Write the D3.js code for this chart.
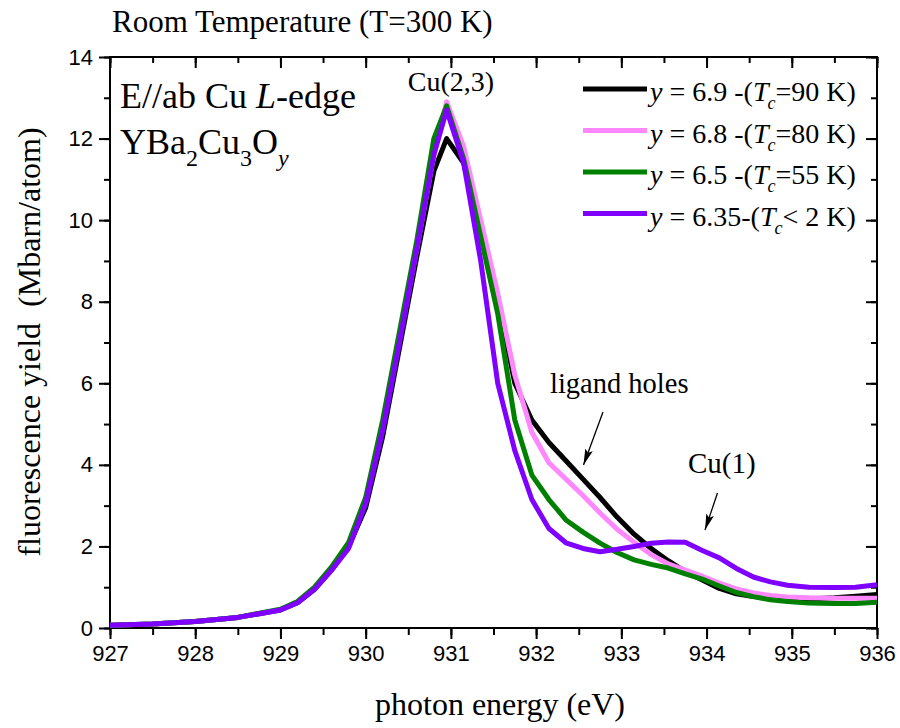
<!DOCTYPE html>
<html>
<head>
<meta charset="utf-8">
<script src="https://cdn.jsdelivr.net/npm/d3@7"></script>
<style>
  html, body { margin: 0; padding: 0; background: #fff; }
  svg { display: block; }
  .serif { font-family: "Liberation Serif", "Times New Roman", serif; fill: #000; white-space: pre; }
  .tick text { font-family: "Liberation Sans", Arial, sans-serif; font-size: 22px; fill: #000; }
</style>
</head>
<body>
<svg id="chart" width="900" height="728"></svg>
<script>
// Photon energy grid (eV)
const energy = [927, 927.5, 928, 928.5, 929, 929.2, 929.4, 929.6, 929.8, 930,
  930.2, 930.4, 930.6, 930.8, 930.95, 931.15, 931.35, 931.55, 931.75, 931.95,
  932.15, 932.35, 932.55, 932.75, 932.95, 933.15, 933.35, 933.55, 933.75, 933.95,
  934.15, 934.35, 934.55, 934.75, 934.95, 935.2, 935.5, 935.75, 936];

// Fluorescence yield (Mbarn/atom) for each oxygen content
const yield69 = [0.07, 0.10, 0.16, 0.26, 0.44, 0.62, 0.95, 1.42, 2.0, 2.95,
  4.7, 6.9, 9.1, 11.2, 12.0, 11.4, 9.6, 8.1, 6.0, 5.1,
  4.55, 4.1, 3.65, 3.2, 2.72, 2.3, 1.95, 1.65, 1.38, 1.18,
  0.97, 0.84, 0.77, 0.73, 0.71, 0.71, 0.74, 0.78, 0.82];
const yield68 = [0.07, 0.10, 0.16, 0.26, 0.45, 0.63, 0.98, 1.45, 2.05, 3.1,
  4.9, 7.1, 9.3, 11.6, 12.9, 11.8, 10.0, 8.2, 6.2, 4.8,
  4.05, 3.65, 3.25, 2.82, 2.42, 2.1, 1.8, 1.57, 1.42, 1.27,
  1.1, 0.96, 0.86, 0.8, 0.76, 0.74, 0.73, 0.73, 0.73];
const yield65 = [0.07, 0.10, 0.16, 0.26, 0.46, 0.65, 1.0, 1.5, 2.1, 3.2,
  5.1, 7.3, 9.5, 12.0, 12.8, 11.5, 9.6, 7.7, 5.1, 3.75,
  3.15, 2.65, 2.35, 2.08, 1.85, 1.67, 1.56, 1.47, 1.33, 1.2,
  1.03, 0.87, 0.77, 0.69, 0.65, 0.61, 0.6, 0.6, 0.63];
const yield635 = [0.07, 0.10, 0.16, 0.26, 0.44, 0.62, 0.95, 1.42, 1.95, 3.05,
  4.85, 7.05, 9.3, 11.6, 12.7, 11.4, 9.0, 6.0, 4.35, 3.15,
  2.44, 2.09, 1.95, 1.87, 1.93, 2.0, 2.08, 2.11, 2.1, 1.9,
  1.72, 1.46, 1.25, 1.13, 1.05, 1.0, 0.99, 1.0, 1.06];

const seriesNames = ["6.9 -(", "6.8 -(", "6.5 -(", "6.35-("];
const seriesTc = ["=90 K)", "=80 K)", "=55 K)", "< 2 K)"];
const seriesColors = ["#000000", "#ff88ff", "#008000", "#8000ff"];
const seriesValues = [yield69, yield68, yield65, yield635];

const xTicks = [927, 928, 929, 930, 931, 932, 933, 934, 935, 936];
const yTicks = [0, 2, 4, 6, 8, 10, 12, 14];

const svg = d3.select("#chart");
const plotL = 110, plotR = 877, plotT = 57, plotB = 628;

const x = d3.scaleLinear().domain([927, 936]).range([plotL, plotR]);
const y = d3.scaleLinear().domain([0, 14]).range([plotB, plotT]);

const xMinor = d3.range(927, 936.01, 0.5);
const yMinor = d3.range(0, 14.01, 1);

function styleAxis(g) {
  g.select(".domain").remove();
  g.selectAll(".tick line").attr("stroke", "#000").attr("stroke-width", 2);
}

// minor ticks (outward on bottom/left, inward on top/right)
svg.append("g").attr("transform", `translate(0,${plotB})`)
  .call(d3.axisBottom(x).tickValues(xMinor).tickSize(7).tickFormat(""))
  .call(styleAxis);
svg.append("g").attr("transform", `translate(0,${plotT})`)
  .call(d3.axisTop(x).tickValues(xMinor).tickSize(-6).tickFormat(""))
  .call(styleAxis);
svg.append("g").attr("transform", `translate(${plotL},0)`)
  .call(d3.axisLeft(y).tickValues(yMinor).tickSize(6).tickFormat(""))
  .call(styleAxis);
svg.append("g").attr("transform", `translate(${plotR},0)`)
  .call(d3.axisRight(y).tickValues(yMinor).tickSize(-6).tickFormat(""))
  .call(styleAxis);

// major ticks with labels
svg.append("g").attr("transform", `translate(0,${plotB})`)
  .call(d3.axisBottom(x).tickValues(xTicks).tickSize(11).tickPadding(6).tickFormat(d3.format("d")))
  .call(styleAxis);
svg.append("g").attr("transform", `translate(0,${plotT})`)
  .call(d3.axisTop(x).tickValues(xTicks).tickSize(-11).tickFormat(""))
  .call(styleAxis);
svg.append("g").attr("transform", `translate(${plotL},0)`)
  .call(d3.axisLeft(y).tickValues(yTicks).tickSize(11).tickPadding(6).tickFormat(d3.format("d")))
  .call(styleAxis);
svg.append("g").attr("transform", `translate(${plotR},0)`)
  .call(d3.axisRight(y).tickValues(yTicks).tickSize(-11).tickFormat(""))
  .call(styleAxis);

// frame
svg.append("rect")
  .attr("x", plotL).attr("y", plotT)
  .attr("width", plotR - plotL).attr("height", plotB - plotT)
  .attr("fill", "none").attr("stroke", "#000").attr("stroke-width", 2);

// spectra
const line = d3.line().x((d, i) => x(energy[i])).y(d => y(d));
seriesValues.forEach((vals, k) => {
  svg.append("path")
    .datum(vals)
    .attr("d", line)
    .attr("fill", "none")
    .attr("stroke", seriesColors[k])
    .attr("stroke-width", 5)
    .attr("stroke-linejoin", "round");
});

// legend
const legY = [89, 130.5, 172, 213.5];
seriesValues.forEach((vals, k) => {
  svg.append("line")
    .attr("x1", 583).attr("x2", 647)
    .attr("y1", legY[k]).attr("y2", legY[k])
    .attr("stroke", seriesColors[k]).attr("stroke-width", 5);
  const t = svg.append("text").attr("class", "serif")
    .attr("x", 650).attr("y", legY[k] + 12)
    .attr("font-size", 28);
  t.append("tspan").attr("font-style", "italic").text("y");
  t.append("tspan").text(" = " + seriesNames[k]);
  t.append("tspan").attr("font-style", "italic").text("T");
  t.append("tspan").attr("font-style", "italic").attr("font-size", 18).attr("dy", 8).attr("dx", -1).text("c");
  t.append("tspan").attr("dy", -8).text(seriesTc[k]);
});

// title
svg.append("text").attr("class", "serif")
  .attr("x", 112).attr("y", 32).attr("font-size", 31)
  .text("Room Temperature (T=300 K)");

// sample labels
const lab1 = svg.append("text").attr("class", "serif")
  .attr("x", 120).attr("y", 108).attr("font-size", 36);
lab1.append("tspan").text("E//ab Cu ");
lab1.append("tspan").attr("font-style", "italic").text("L");
lab1.append("tspan").text("-edge");

const lab2 = svg.append("text").attr("class", "serif")
  .attr("x", 120).attr("y", 154).attr("font-size", 36);
lab2.append("tspan").text("YBa");
lab2.append("tspan").attr("font-size", 24).attr("dy", 12).text("2");
lab2.append("tspan").attr("dy", -12).text("Cu");
lab2.append("tspan").attr("font-size", 24).attr("dy", 12).text("3");
lab2.append("tspan").attr("dy", -12).text("O");
lab2.append("tspan").attr("font-size", 24).attr("font-style", "italic").attr("dy", 12).text("y");

// peak annotations
svg.append("text").attr("class", "serif")
  .attr("x", 451).attr("y", 91).attr("font-size", 28)
  .attr("text-anchor", "middle").text("Cu(2,3)");

svg.append("text").attr("class", "serif")
  .attr("x", 550).attr("y", 393).attr("font-size", 28.5)
  .text("ligand holes");
svg.append("text").attr("class", "serif")
  .attr("x", 688).attr("y", 473).attr("font-size", 29)
  .text("Cu(1)");

// arrows
const defs = svg.append("defs");
defs.append("marker")
  .attr("id", "head").attr("viewBox", "0 0 16 8")
  .attr("refX", 16).attr("refY", 4)
  .attr("markerWidth", 16).attr("markerHeight", 8)
  .attr("markerUnits", "userSpaceOnUse")
  .attr("orient", "auto")
  .append("path").attr("d", "M0,0 L16,4 L0,8 L3,4 Z").attr("fill", "#000");

[[603, 412, 583.5, 465], [717.5, 493, 705, 530]].forEach(a => {
  svg.append("line")
    .attr("x1", a[0]).attr("y1", a[1]).attr("x2", a[2]).attr("y2", a[3])
    .attr("stroke", "#000").attr("stroke-width", 1.3)
    .attr("marker-end", "url(#head)");
});

// axis titles
svg.append("text").attr("class", "serif")
  .attr("x", 500).attr("y", 715).attr("font-size", 32)
  .attr("text-anchor", "middle").text("photon energy (eV)");
svg.append("text").attr("class", "serif")
  .attr("transform", "translate(40,342) rotate(-90)")
  .attr("font-size", 32).attr("text-anchor", "middle")
  .text("fluorescence yield  (Mbarn/atom)");
</script>
</body>
</html>
